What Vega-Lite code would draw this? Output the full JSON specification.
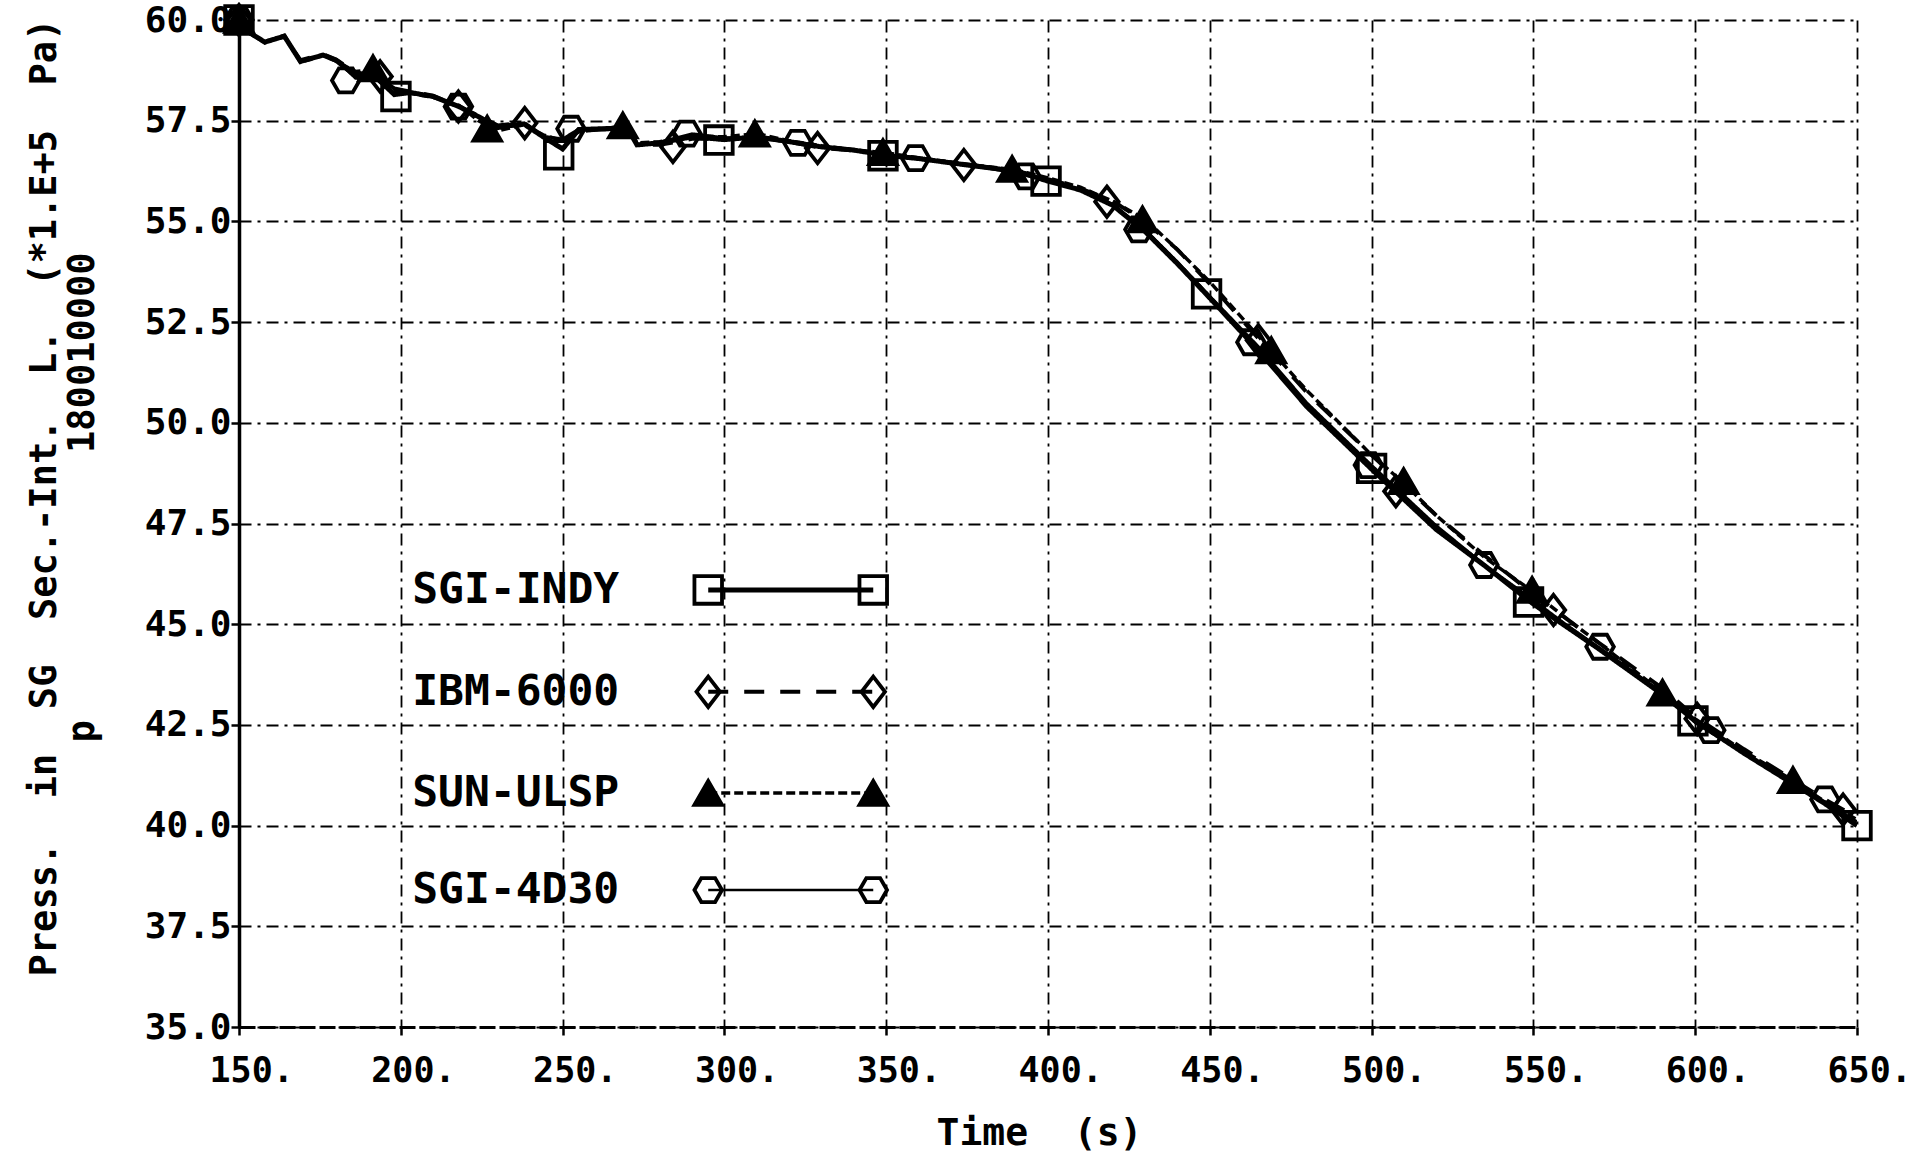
{
  "$schema": "https://vega.github.io/schema/vega-lite/v6.json",
  "width": 1618,
  "height": 1007,
  "autosize": {"type": "none"},
  "padding": {"left": 239, "top": 20, "right": 54, "bottom": 127},
  "background": "white",
  "config": {"view": {"stroke": null}, "font": "DejaVu Sans Mono"},
  "datasets": {
    "curves": [
      {"series": "SGI-INDY", "time": 150, "value": 60.0}, {"series": "SGI-INDY", "time": 153, "value": 59.7}, {"series": "SGI-INDY", "time": 158, "value": 59.45}, {"series": "SGI-INDY", "time": 164, "value": 59.6}, {"series": "SGI-INDY", "time": 169, "value": 58.97}, {"series": "SGI-INDY", "time": 176, "value": 59.13}, {"series": "SGI-INDY", "time": 180, "value": 59.0}, {"series": "SGI-INDY", "time": 186, "value": 58.62}, {"series": "SGI-INDY", "time": 192, "value": 58.6}, {"series": "SGI-INDY", "time": 198, "value": 58.15}, {"series": "SGI-INDY", "time": 203, "value": 58.2}, {"series": "SGI-INDY", "time": 210, "value": 58.1}, {"series": "SGI-INDY", "time": 218, "value": 57.85}, {"series": "SGI-INDY", "time": 224, "value": 57.6}, {"series": "SGI-INDY", "time": 230, "value": 57.35}, {"series": "SGI-INDY", "time": 238, "value": 57.42}, {"series": "SGI-INDY", "time": 244, "value": 57.1}, {"series": "SGI-INDY", "time": 250, "value": 56.8}, {"series": "SGI-INDY", "time": 255, "value": 57.28}, {"series": "SGI-INDY", "time": 262, "value": 57.3}, {"series": "SGI-INDY", "time": 270, "value": 57.32}, {"series": "SGI-INDY", "time": 273, "value": 56.9}, {"series": "SGI-INDY", "time": 280, "value": 56.95}, {"series": "SGI-INDY", "time": 290, "value": 57.1}, {"series": "SGI-INDY", "time": 300, "value": 57.03}, {"series": "SGI-INDY", "time": 310, "value": 57.1}, {"series": "SGI-INDY", "time": 320, "value": 56.98}, {"series": "SGI-INDY", "time": 330, "value": 56.85}, {"series": "SGI-INDY", "time": 340, "value": 56.77}, {"series": "SGI-INDY", "time": 350, "value": 56.64}, {"series": "SGI-INDY", "time": 360, "value": 56.56}, {"series": "SGI-INDY", "time": 375, "value": 56.4}, {"series": "SGI-INDY", "time": 390, "value": 56.25}, {"series": "SGI-INDY", "time": 400, "value": 56.0}, {"series": "SGI-INDY", "time": 410, "value": 55.78}, {"series": "SGI-INDY", "time": 420, "value": 55.4}, {"series": "SGI-INDY", "time": 430, "value": 54.75}, {"series": "SGI-INDY", "time": 440, "value": 53.95}, {"series": "SGI-INDY", "time": 450, "value": 53.1}, {"series": "SGI-INDY", "time": 465, "value": 51.8}, {"series": "SGI-INDY", "time": 480, "value": 50.4}, {"series": "SGI-INDY", "time": 500, "value": 48.85}, {"series": "SGI-INDY", "time": 510, "value": 48.1}, {"series": "SGI-INDY", "time": 520, "value": 47.35}, {"series": "SGI-INDY", "time": 535, "value": 46.45}, {"series": "SGI-INDY", "time": 550, "value": 45.5}, {"series": "SGI-INDY", "time": 560, "value": 44.95}, {"series": "SGI-INDY", "time": 570, "value": 44.4}, {"series": "SGI-INDY", "time": 590, "value": 43.25}, {"series": "SGI-INDY", "time": 600, "value": 42.6}, {"series": "SGI-INDY", "time": 615, "value": 41.8}, {"series": "SGI-INDY", "time": 630, "value": 41.05}, {"series": "SGI-INDY", "time": 640, "value": 40.55}, {"series": "SGI-INDY", "time": 650, "value": 40.0},
      {"series": "IBM-6000", "time": 150, "value": 60.0}, {"series": "IBM-6000", "time": 153, "value": 59.72}, {"series": "IBM-6000", "time": 158, "value": 59.47}, {"series": "IBM-6000", "time": 164, "value": 59.58}, {"series": "IBM-6000", "time": 169, "value": 59.0}, {"series": "IBM-6000", "time": 176, "value": 59.15}, {"series": "IBM-6000", "time": 180, "value": 59.02}, {"series": "IBM-6000", "time": 186, "value": 58.7}, {"series": "IBM-6000", "time": 192, "value": 58.62}, {"series": "IBM-6000", "time": 198, "value": 58.3}, {"series": "IBM-6000", "time": 203, "value": 58.22}, {"series": "IBM-6000", "time": 210, "value": 58.12}, {"series": "IBM-6000", "time": 218, "value": 57.85}, {"series": "IBM-6000", "time": 224, "value": 57.62}, {"series": "IBM-6000", "time": 230, "value": 57.38}, {"series": "IBM-6000", "time": 238, "value": 57.45}, {"series": "IBM-6000", "time": 244, "value": 57.12}, {"series": "IBM-6000", "time": 250, "value": 57.0}, {"series": "IBM-6000", "time": 255, "value": 57.25}, {"series": "IBM-6000", "time": 262, "value": 57.28}, {"series": "IBM-6000", "time": 270, "value": 57.3}, {"series": "IBM-6000", "time": 273, "value": 56.92}, {"series": "IBM-6000", "time": 280, "value": 56.9}, {"series": "IBM-6000", "time": 290, "value": 57.05}, {"series": "IBM-6000", "time": 300, "value": 57.05}, {"series": "IBM-6000", "time": 310, "value": 57.08}, {"series": "IBM-6000", "time": 320, "value": 56.98}, {"series": "IBM-6000", "time": 330, "value": 56.82}, {"series": "IBM-6000", "time": 340, "value": 56.76}, {"series": "IBM-6000", "time": 350, "value": 56.66}, {"series": "IBM-6000", "time": 360, "value": 56.57}, {"series": "IBM-6000", "time": 375, "value": 56.4}, {"series": "IBM-6000", "time": 390, "value": 56.26}, {"series": "IBM-6000", "time": 400, "value": 56.05}, {"series": "IBM-6000", "time": 410, "value": 55.82}, {"series": "IBM-6000", "time": 420, "value": 55.5}, {"series": "IBM-6000", "time": 430, "value": 55.0}, {"series": "IBM-6000", "time": 440, "value": 54.3}, {"series": "IBM-6000", "time": 450, "value": 53.45}, {"series": "IBM-6000", "time": 465, "value": 52.1}, {"series": "IBM-6000", "time": 480, "value": 50.75}, {"series": "IBM-6000", "time": 500, "value": 49.2}, {"series": "IBM-6000", "time": 510, "value": 48.45}, {"series": "IBM-6000", "time": 520, "value": 47.7}, {"series": "IBM-6000", "time": 535, "value": 46.7}, {"series": "IBM-6000", "time": 550, "value": 45.75}, {"series": "IBM-6000", "time": 560, "value": 45.15}, {"series": "IBM-6000", "time": 570, "value": 44.55}, {"series": "IBM-6000", "time": 590, "value": 43.4}, {"series": "IBM-6000", "time": 600, "value": 42.7}, {"series": "IBM-6000", "time": 615, "value": 41.9}, {"series": "IBM-6000", "time": 630, "value": 41.15}, {"series": "IBM-6000", "time": 640, "value": 40.65}, {"series": "IBM-6000", "time": 650, "value": 40.2},
      {"series": "SUN-ULSP", "time": 150, "value": 60.0}, {"series": "SUN-ULSP", "time": 153, "value": 59.68}, {"series": "SUN-ULSP", "time": 158, "value": 59.44}, {"series": "SUN-ULSP", "time": 164, "value": 59.62}, {"series": "SUN-ULSP", "time": 169, "value": 58.95}, {"series": "SUN-ULSP", "time": 176, "value": 59.12}, {"series": "SUN-ULSP", "time": 180, "value": 58.98}, {"series": "SUN-ULSP", "time": 186, "value": 58.72}, {"series": "SUN-ULSP", "time": 192, "value": 58.78}, {"series": "SUN-ULSP", "time": 198, "value": 58.25}, {"series": "SUN-ULSP", "time": 203, "value": 58.18}, {"series": "SUN-ULSP", "time": 210, "value": 58.08}, {"series": "SUN-ULSP", "time": 218, "value": 57.88}, {"series": "SUN-ULSP", "time": 224, "value": 57.5}, {"series": "SUN-ULSP", "time": 230, "value": 57.25}, {"series": "SUN-ULSP", "time": 238, "value": 57.4}, {"series": "SUN-ULSP", "time": 244, "value": 57.15}, {"series": "SUN-ULSP", "time": 250, "value": 57.0}, {"series": "SUN-ULSP", "time": 255, "value": 57.22}, {"series": "SUN-ULSP", "time": 262, "value": 57.3}, {"series": "SUN-ULSP", "time": 270, "value": 57.38}, {"series": "SUN-ULSP", "time": 273, "value": 56.95}, {"series": "SUN-ULSP", "time": 280, "value": 56.98}, {"series": "SUN-ULSP", "time": 290, "value": 57.12}, {"series": "SUN-ULSP", "time": 300, "value": 57.1}, {"series": "SUN-ULSP", "time": 310, "value": 57.18}, {"series": "SUN-ULSP", "time": 320, "value": 57.0}, {"series": "SUN-ULSP", "time": 330, "value": 56.88}, {"series": "SUN-ULSP", "time": 340, "value": 56.78}, {"series": "SUN-ULSP", "time": 350, "value": 56.7}, {"series": "SUN-ULSP", "time": 360, "value": 56.58}, {"series": "SUN-ULSP", "time": 375, "value": 56.42}, {"series": "SUN-ULSP", "time": 390, "value": 56.28}, {"series": "SUN-ULSP", "time": 400, "value": 56.08}, {"series": "SUN-ULSP", "time": 410, "value": 55.85}, {"series": "SUN-ULSP", "time": 420, "value": 55.5}, {"series": "SUN-ULSP", "time": 430, "value": 55.05}, {"series": "SUN-ULSP", "time": 440, "value": 54.3}, {"series": "SUN-ULSP", "time": 450, "value": 53.5}, {"series": "SUN-ULSP", "time": 465, "value": 52.15}, {"series": "SUN-ULSP", "time": 480, "value": 50.8}, {"series": "SUN-ULSP", "time": 500, "value": 49.2}, {"series": "SUN-ULSP", "time": 510, "value": 48.5}, {"series": "SUN-ULSP", "time": 520, "value": 47.7}, {"series": "SUN-ULSP", "time": 535, "value": 46.65}, {"series": "SUN-ULSP", "time": 550, "value": 45.8}, {"series": "SUN-ULSP", "time": 560, "value": 45.15}, {"series": "SUN-ULSP", "time": 570, "value": 44.55}, {"series": "SUN-ULSP", "time": 590, "value": 43.3}, {"series": "SUN-ULSP", "time": 600, "value": 42.65}, {"series": "SUN-ULSP", "time": 615, "value": 41.85}, {"series": "SUN-ULSP", "time": 630, "value": 41.13}, {"series": "SUN-ULSP", "time": 640, "value": 40.6}, {"series": "SUN-ULSP", "time": 650, "value": 40.15},
      {"series": "SGI-4D30", "time": 150, "value": 60.0}, {"series": "SGI-4D30", "time": 153, "value": 59.7}, {"series": "SGI-4D30", "time": 158, "value": 59.46}, {"series": "SGI-4D30", "time": 164, "value": 59.6}, {"series": "SGI-4D30", "time": 169, "value": 58.98}, {"series": "SGI-4D30", "time": 176, "value": 59.13}, {"series": "SGI-4D30", "time": 180, "value": 59.0}, {"series": "SGI-4D30", "time": 186, "value": 58.55}, {"series": "SGI-4D30", "time": 192, "value": 58.55}, {"series": "SGI-4D30", "time": 198, "value": 58.2}, {"series": "SGI-4D30", "time": 203, "value": 58.2}, {"series": "SGI-4D30", "time": 210, "value": 58.1}, {"series": "SGI-4D30", "time": 218, "value": 57.85}, {"series": "SGI-4D30", "time": 224, "value": 57.6}, {"series": "SGI-4D30", "time": 230, "value": 57.3}, {"series": "SGI-4D30", "time": 238, "value": 57.4}, {"series": "SGI-4D30", "time": 244, "value": 57.12}, {"series": "SGI-4D30", "time": 250, "value": 57.05}, {"series": "SGI-4D30", "time": 255, "value": 57.3}, {"series": "SGI-4D30", "time": 262, "value": 57.28}, {"series": "SGI-4D30", "time": 270, "value": 57.3}, {"series": "SGI-4D30", "time": 273, "value": 56.9}, {"series": "SGI-4D30", "time": 280, "value": 56.97}, {"series": "SGI-4D30", "time": 290, "value": 57.18}, {"series": "SGI-4D30", "time": 300, "value": 57.08}, {"series": "SGI-4D30", "time": 310, "value": 57.1}, {"series": "SGI-4D30", "time": 320, "value": 56.96}, {"series": "SGI-4D30", "time": 330, "value": 56.85}, {"series": "SGI-4D30", "time": 340, "value": 56.75}, {"series": "SGI-4D30", "time": 350, "value": 56.64}, {"series": "SGI-4D30", "time": 360, "value": 56.57}, {"series": "SGI-4D30", "time": 375, "value": 56.4}, {"series": "SGI-4D30", "time": 390, "value": 56.2}, {"series": "SGI-4D30", "time": 400, "value": 56.02}, {"series": "SGI-4D30", "time": 410, "value": 55.8}, {"series": "SGI-4D30", "time": 420, "value": 55.42}, {"series": "SGI-4D30", "time": 430, "value": 54.8}, {"series": "SGI-4D30", "time": 440, "value": 54.0}, {"series": "SGI-4D30", "time": 450, "value": 53.15}, {"series": "SGI-4D30", "time": 465, "value": 51.9}, {"series": "SGI-4D30", "time": 480, "value": 50.5}, {"series": "SGI-4D30", "time": 500, "value": 48.95}, {"series": "SGI-4D30", "time": 510, "value": 48.2}, {"series": "SGI-4D30", "time": 520, "value": 47.45}, {"series": "SGI-4D30", "time": 535, "value": 46.47}, {"series": "SGI-4D30", "time": 550, "value": 45.6}, {"series": "SGI-4D30", "time": 560, "value": 45.0}, {"series": "SGI-4D30", "time": 570, "value": 44.44}, {"series": "SGI-4D30", "time": 590, "value": 43.3}, {"series": "SGI-4D30", "time": 600, "value": 42.55}, {"series": "SGI-4D30", "time": 615, "value": 41.8}, {"series": "SGI-4D30", "time": 630, "value": 41.1}, {"series": "SGI-4D30", "time": 640, "value": 40.6}, {"series": "SGI-4D30", "time": 650, "value": 40.1}
    ],
    "marks": [
      {"series": "SGI-INDY", "time": 150, "value": 60.0}, {"series": "SGI-INDY", "time": 198.5, "value": 58.1}, {"series": "SGI-INDY", "time": 248.8, "value": 56.65}, {"series": "SGI-INDY", "time": 298.3, "value": 57.02}, {"series": "SGI-INDY", "time": 349, "value": 56.63}, {"series": "SGI-INDY", "time": 399.4, "value": 56.0}, {"series": "SGI-INDY", "time": 449, "value": 53.2}, {"series": "SGI-INDY", "time": 500, "value": 48.87}, {"series": "SGI-INDY", "time": 548.5, "value": 45.55}, {"series": "SGI-INDY", "time": 599.3, "value": 42.6}, {"series": "SGI-INDY", "time": 650, "value": 40.0},
      {"series": "IBM-6000", "time": 150, "value": 60.0}, {"series": "IBM-6000", "time": 193.6, "value": 58.6}, {"series": "IBM-6000", "time": 217.8, "value": 57.85}, {"series": "IBM-6000", "time": 238.3, "value": 57.44}, {"series": "IBM-6000", "time": 284.1, "value": 56.85}, {"series": "IBM-6000", "time": 328.8, "value": 56.82}, {"series": "IBM-6000", "time": 374, "value": 56.4}, {"series": "IBM-6000", "time": 418.2, "value": 55.49}, {"series": "IBM-6000", "time": 465, "value": 52.05}, {"series": "IBM-6000", "time": 507.5, "value": 48.3}, {"series": "IBM-6000", "time": 556.2, "value": 45.35}, {"series": "IBM-6000", "time": 600.6, "value": 42.65}, {"series": "IBM-6000", "time": 645.7, "value": 40.4},
      {"series": "SUN-ULSP", "time": 150, "value": 60.0}, {"series": "SUN-ULSP", "time": 191.4, "value": 58.8}, {"series": "SUN-ULSP", "time": 226.7, "value": 57.3}, {"series": "SUN-ULSP", "time": 268.6, "value": 57.38}, {"series": "SUN-ULSP", "time": 309.4, "value": 57.18}, {"series": "SUN-ULSP", "time": 349, "value": 56.72}, {"series": "SUN-ULSP", "time": 388.9, "value": 56.3}, {"series": "SUN-ULSP", "time": 429.2, "value": 55.05}, {"series": "SUN-ULSP", "time": 469, "value": 51.8}, {"series": "SUN-ULSP", "time": 509.9, "value": 48.55}, {"series": "SUN-ULSP", "time": 549.6, "value": 45.85}, {"series": "SUN-ULSP", "time": 589.9, "value": 43.3}, {"series": "SUN-ULSP", "time": 630.2, "value": 41.13},
      {"series": "SGI-4D30", "time": 150, "value": 60.0}, {"series": "SGI-4D30", "time": 183, "value": 58.5}, {"series": "SGI-4D30", "time": 217.8, "value": 57.85}, {"series": "SGI-4D30", "time": 252.6, "value": 57.3}, {"series": "SGI-4D30", "time": 288.4, "value": 57.18}, {"series": "SGI-4D30", "time": 322.7, "value": 56.95}, {"series": "SGI-4D30", "time": 359.1, "value": 56.57}, {"series": "SGI-4D30", "time": 393.2, "value": 56.12}, {"series": "SGI-4D30", "time": 428.1, "value": 54.8}, {"series": "SGI-4D30", "time": 462.7, "value": 52.0}, {"series": "SGI-4D30", "time": 499, "value": 48.95}, {"series": "SGI-4D30", "time": 534.7, "value": 46.47}, {"series": "SGI-4D30", "time": 570.6, "value": 44.44}, {"series": "SGI-4D30", "time": 604.8, "value": 42.37}, {"series": "SGI-4D30", "time": 640.1, "value": 40.65}
    ],
    "legendLines": [
      {"series": "SGI-INDY", "time": 295, "value": 45.85}, {"series": "SGI-INDY", "time": 346, "value": 45.85},
      {"series": "IBM-6000", "time": 295, "value": 43.32}, {"series": "IBM-6000", "time": 346, "value": 43.32},
      {"series": "SUN-ULSP", "time": 295, "value": 40.81}, {"series": "SUN-ULSP", "time": 346, "value": 40.81},
      {"series": "SGI-4D30", "time": 295, "value": 38.4}, {"series": "SGI-4D30", "time": 346, "value": 38.4}
    ],
    "legendText": [
      {"label": "SGI-INDY", "time": 203.5, "value": 45.85},
      {"label": "IBM-6000", "time": 203.5, "value": 43.32},
      {"label": "SUN-ULSP", "time": 203.5, "value": 40.81},
      {"label": "SGI-4D30", "time": 203.5, "value": 38.4}
    ]
  },
  "encoding": {
    "x": {
      "field": "time", "type": "quantitative",
      "scale": {"domain": [150, 650], "nice": false, "zero": false},
      "axis": {
        "values": [150, 200, 250, 300, 350, 400, 450, 500, 550, 600, 650],
        "labelExpr": "format(datum.value, 'd') + '.'",
        "grid": true, "gridColor": "black", "gridOpacity": 1, "gridWidth": 1.8, "gridDash": [12, 6, 3, 6],
        "domainColor": "black", "domainWidth": 3, "domainDash": [16, 4],
        "ticks": true, "tickColor": "black", "tickWidth": 2.5, "tickSize": 8,
        "labelFont": "DejaVu Sans Mono", "labelFontWeight": "bold", "labelFontSize": 35, "labelColor": "black",
        "labelAlign": "left", "labelOffset": -30, "labelPadding": 18, "labelFlush": false, "labelOverlap": false, "labelBound": false,
        "title": "Time\u00a0\u00a0(s)", "titleFont": "DejaVu Sans Mono", "titleFontWeight": "bold", "titleFontSize": 38, "titleColor": "black",
        "titleX": 800, "titleY": 106, "titleBaseline": "middle", "titleAlign": "center"
      }
    },
    "y": {
      "field": "value", "type": "quantitative",
      "scale": {"domain": [35, 60], "nice": false, "zero": false},
      "axis": {
        "values": [35, 37.5, 40, 42.5, 45, 47.5, 50, 52.5, 55, 57.5, 60],
        "labelExpr": "format(datum.value, '.1f')",
        "grid": true, "gridColor": "black", "gridOpacity": 1, "gridWidth": 1.8, "gridDash": [12, 6, 3, 6],
        "domainColor": "black", "domainWidth": 3.5,
        "ticks": true, "tickColor": "black", "tickWidth": 2.5, "tickSize": 8,
        "labelFont": "DejaVu Sans Mono", "labelFontWeight": "bold", "labelFontSize": 36, "labelColor": "black",
        "labelPadding": 0, "labelOverlap": false, "labelBound": false, "labelFlush": false,
        "title": ["Press.\u00a0\u00a0in\u00a0\u00a0SG\u00a0\u00a0Sec.-Int.\u00a0\u00a0L.\u00a0\u00a0(*1.E+5\u00a0\u00a0Pa)", "p\u00a0\u00a0\u00a0\u00a0\u00a0\u00a0\u00a0\u00a0\u00a0\u00a0\u00a0\u00a0180010000\u00a0\u00a0"],
        "titleFont": "DejaVu Sans Mono", "titleFontWeight": "bold", "titleFontSize": 37, "titleColor": "black",
        "titleAngle": 270, "titleX": -195, "titleY": 477, "titleBaseline": "middle", "titleAlign": "center", "titleLineHeight": 38
      }
    }
  },
  "layer": [
    {
      "data": {"name": "curves"},
      "mark": {"type": "line", "color": "black", "clip": true},
      "encoding": {
        "detail": {"field": "series"},
        "order": {"field": "time", "type": "quantitative"},
        "strokeDash": {"field": "series", "type": "nominal", "legend": null,
          "scale": {"domain": ["SGI-INDY", "IBM-6000", "SUN-ULSP", "SGI-4D30"], "range": [[1, 0], [20, 16], [9, 4], [1, 0]]}},
        "strokeWidth": {"field": "series", "type": "ordinal", "legend": null,
          "scale": {"type": "ordinal", "domain": ["SGI-INDY", "IBM-6000", "SUN-ULSP", "SGI-4D30"], "range": [5, 4, 3.5, 2.6]}}
      }
    },
    {
      "data": {"name": "legendLines"},
      "mark": {"type": "line", "color": "black"},
      "encoding": {
        "detail": {"field": "series"},
        "strokeDash": {"field": "series", "type": "nominal", "legend": null,
          "scale": {"domain": ["SGI-INDY", "IBM-6000", "SUN-ULSP", "SGI-4D30"], "range": [[1, 0], [20, 16], [9, 4], [1, 0]]}},
        "strokeWidth": {"field": "series", "type": "ordinal", "legend": null,
          "scale": {"type": "ordinal", "domain": ["SGI-INDY", "IBM-6000", "SUN-ULSP", "SGI-4D30"], "range": [5, 4, 3.5, 2.6]}}
      }
    },
    {
      "data": {"name": "marks"},
      "mark": {"type": "point", "filled": false, "stroke": "black", "strokeWidth": 3.8, "size": 760, "opacity": 1, "clip": false},
      "encoding": {
        "shape": {"field": "series", "type": "nominal", "legend": null,
          "scale": {"domain": ["SGI-INDY", "IBM-6000", "SUN-ULSP", "SGI-4D30"],
            "range": ["square", "M0,-1.1L0.85,0L0,1.1L-0.85,0Z", "triangle-up", "M-1,0L-0.5,-0.87L0.5,-0.87L1,0L0.5,0.87L-0.5,0.87Z"]}},
        "fill": {"field": "series", "type": "nominal", "legend": null,
          "scale": {"domain": ["SGI-INDY", "IBM-6000", "SUN-ULSP", "SGI-4D30"], "range": ["transparent", "transparent", "black", "transparent"]}}
      }
    },
    {
      "data": {"name": "legendLines"},
      "mark": {"type": "point", "filled": false, "stroke": "black", "strokeWidth": 3.8, "size": 760, "opacity": 1},
      "encoding": {
        "shape": {"field": "series", "type": "nominal", "legend": null,
          "scale": {"domain": ["SGI-INDY", "IBM-6000", "SUN-ULSP", "SGI-4D30"],
            "range": ["square", "M0,-1.1L0.85,0L0,1.1L-0.85,0Z", "triangle-up", "M-1,0L-0.5,-0.87L0.5,-0.87L1,0L0.5,0.87L-0.5,0.87Z"]}},
        "fill": {"field": "series", "type": "nominal", "legend": null,
          "scale": {"domain": ["SGI-INDY", "IBM-6000", "SUN-ULSP", "SGI-4D30"], "range": ["transparent", "transparent", "black", "transparent"]}}
      }
    },
    {
      "data": {"name": "legendText"},
      "mark": {"type": "text", "align": "left", "baseline": "middle", "font": "DejaVu Sans Mono", "fontWeight": "bold", "fontSize": 43, "color": "black"},
      "encoding": {"text": {"field": "label"}}
    }
  ]
}
